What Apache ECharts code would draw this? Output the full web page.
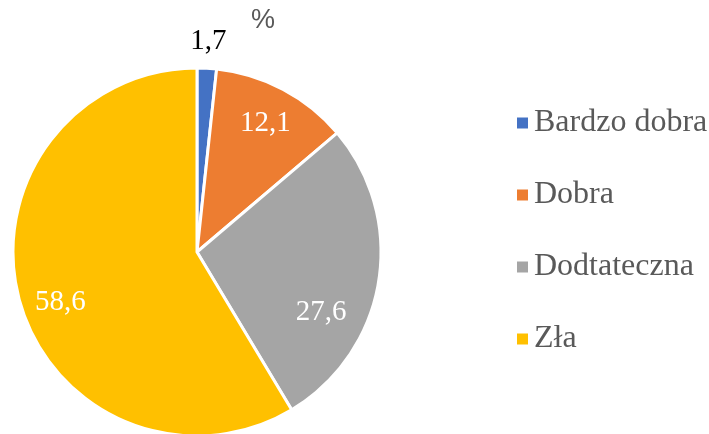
<!DOCTYPE html>
<html>
<head>
<meta charset="utf-8">
<script src="https://cdn.jsdelivr.net/npm/echarts@6/dist/echarts.min.js"></script>
<style>
  html, body { margin: 0; padding: 0; background: #fff; }
  #chart { width: 709px; height: 434px; }
</style>
</head>
<body>
<div id="chart"></div>
<script>
    // dane z wykresu (%)
    var categories = ['Bardzo dobra', 'Dobra', 'Dodtateczna', 'Zła'];
    var values = [1.7, 12.1, 27.6, 58.6];
    var colors = ['#4472C4', '#ED7D31', '#A5A5A5', '#FFC000'];

    var serif = '"Liberation Serif", "DejaVu Serif", serif';
    var fmt = function (p) { return String(p.value).replace('.', ','); };
    var center = [197, 252];

    var pieData = categories.map(function (name, i) {
        return { name: name, value: values[i], itemStyle: { color: colors[i] } };
    });

    // etykiety wewnątrz (biale) - najmniejszy wycinek pomijamy
    var innerLabels = categories.map(function (name, i) {
        var item = { name: name, value: values[i], label: { show: i !== 0 } };
        if (i === 2) item.label.offset = [-20, 37];
        if (i === 3) item.label.offset = [4, 11];
        return item;
    });

    // etykieta na zewnatrz tylko dla najmniejszego wycinka
    var outerLabels = categories.map(function (name, i) {
        return { name: name, value: values[i], label: { show: i === 0 } };
    });

    var myChart = echarts.init(document.getElementById('chart'));
    var option = {
        animation: false,
        title: {
            text: '%',
            left: 246,
            top: 2,
            textStyle: { fontFamily: '"Liberation Sans", Arial, sans-serif', fontSize: 27, fontWeight: 'normal', color: '#595959' }
        },
        legend: {
            orient: 'vertical',
            left: 510,
            top: 102,
            icon: 'rect',
            itemWidth: 13,
            itemHeight: 13,
            itemGap: 40,
            data: categories.map(function (n, i) { return { name: n, itemStyle: { color: colors[i] } }; }),
            textStyle: { fontFamily: serif, fontSize: 32, color: '#595959', lineHeight: 32 }
        },
        series: [
            {
                type: 'pie',
                center: center,
                radius: 184,
                startAngle: 90,
                silent: true,
                itemStyle: { borderColor: '#fff', borderWidth: 3 },
                label: { show: false },
                labelLine: { show: false },
                data: pieData
            },
            {
                type: 'pie',
                center: center,
                radius: [102, 184],
                startAngle: 90,
                silent: true,
                itemStyle: { color: 'transparent' },
                label: { position: 'inside', formatter: fmt, fontFamily: serif, fontSize: 29, color: '#fff' },
                labelLine: { show: false },
                data: innerLabels
            },
            {
                type: 'pie',
                center: center,
                radius: [184, 232],
                startAngle: 90,
                silent: true,
                itemStyle: { color: 'transparent' },
                label: { position: 'inside', formatter: fmt, fontFamily: serif, fontSize: 29, color: '#000' },
                labelLine: { show: false },
                data: outerLabels
            }
        ]
    };

    // rysowanie wykresu
    myChart.setOption(option);
</script>
</body>
</html>
